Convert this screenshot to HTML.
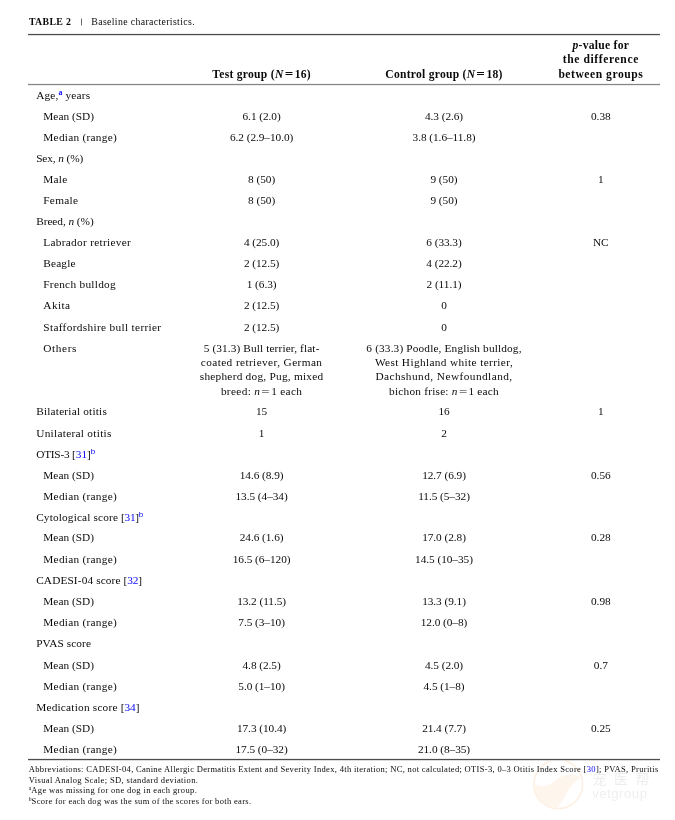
<!DOCTYPE html>
<html lang="en"><head><meta charset="utf-8"><title>Table 2</title>
<style>
html,body{margin:0;padding:0;background:#fff;}
body{width:675px;height:820px;position:relative;overflow:hidden;font-family:"Liberation Serif","Noto Serif CJK SC",serif;color:#0a0a0a;}
#w{position:absolute;left:0;top:0;width:675px;height:820px;will-change:transform;}
.t{position:absolute;font-size:11.3px;line-height:14px;white-space:nowrap;}
.c{position:absolute;font-size:11.3px;line-height:14px;white-space:nowrap;transform:translateX(-50%);}
.l{color:#0808f8;}
sup{font-size:7.8px;line-height:0;vertical-align:baseline;position:relative;top:-4.4px;letter-spacing:0;font-weight:bold;}
sup.sb{font-family:"Liberation Sans",sans-serif;font-weight:normal;font-size:8px;top:-3.8px;margin-left:0;}
.eq{display:inline-block;transform:scaleX(1.3);margin:0 2.1px;}
.rule{position:absolute;left:28px;width:631.5px;}
.hd{position:absolute;font-weight:bold;font-size:11.6px;line-height:14px;white-space:nowrap;transform:translateX(-50%);}
.cap{position:absolute;font-size:9.8px;line-height:12px;white-space:nowrap;}
.fn{position:absolute;left:28.8px;font-size:8.5px;line-height:11px;white-space:nowrap;}
.fn sup{font-size:5.6px;top:-2.6px;font-weight:normal;}
.wm{position:absolute;white-space:nowrap;font-family:"Liberation Sans","Noto Sans CJK SC",sans-serif;}
</style></head><body><div id="w">
<svg style="position:absolute;left:531px;top:757px" width="56" height="56" viewBox="0 0 56 56"><circle cx="27.2" cy="27.2" r="24.4" fill="none" stroke="#fdeee0" stroke-width="1.5"/><path d="M3.1 27.2 C9 29.5 16 30 22 25.5 C30 19 40 13.5 49.5 20.5 C42 26 38 32 34 39 C31 45 28 49 25 51.6 A24.5 24.5 0 0 1 3.1 27.2 Z" fill="#fef5ec"/></svg>
<div class="wm" style="left:592.4px;top:771px;font-size:14px;line-height:16px;color:#ededed;letter-spacing:7.6px">宠医帮</div>
<div class="wm" style="left:592.2px;top:786px;font-size:13.2px;line-height:15px;color:#efefef;letter-spacing:0.5px">vetgroup</div>
<div class="cap" style="left:28.9px;top:16px;font-weight:bold;letter-spacing:0.36px">TABLE 2</div>
<div style="position:absolute;left:81px;top:19px;width:1px;height:6px;background:#6a6a6a;box-shadow:0 1px 0 #c8c8c8,0 -1px 0 #c8c8c8"></div>
<div class="cap" style="left:91.3px;top:16px;letter-spacing:0.36px">Baseline characteristics.</div>
<div class="rule" style="top:34px;height:1px;background:#4c4c4c;box-shadow:0 1px 0 #dcdcdc,0 -1px 0 #ececec"></div>
<div class="rule" style="top:84px;height:1px;background:#858585;box-shadow:0 1px 0 #ececec,0 -1px 0 #f2f2f2"></div>
<div class="rule" style="top:759px;height:1px;background:#4c4c4c;box-shadow:0 1px 0 #dcdcdc,0 -1px 0 #ececec"></div>
<div class="hd" style="left:261.6px;top:68px;letter-spacing:0.28px">Test group (<i>N</i><span class="eq">=</span>16)</div>
<div class="hd" style="left:444px;top:68px;letter-spacing:0.26px">Control group (<i>N</i><span class="eq">=</span>18)</div>
<div class="hd" style="left:600.8px;top:39px;letter-spacing:0.26px"><i>p</i>-value for</div>
<div class="hd" style="left:600.8px;top:53px;letter-spacing:0.61px">the difference</div>
<div class="hd" style="left:600.8px;top:68px;letter-spacing:0.53px">between groups</div>
<div class="t" style="left:36.2px;top:88px;letter-spacing:0.18px">Age,<sup class="l">a</sup> years</div>
<div class="t" style="left:43.3px;top:109px;letter-spacing:0.01px">Mean (SD)</div>
<div class="c" style="left:261.6px;top:109px;letter-spacing:-0.05px">6.1 (2.0)</div>
<div class="c" style="left:444px;top:109px;letter-spacing:-0.05px">4.3 (2.6)</div>
<div class="c" style="left:600.8px;top:109px;letter-spacing:-0.05px">0.38</div>
<div class="t" style="left:43.3px;top:130px;letter-spacing:0.27px">Median (range)</div>
<div class="c" style="left:261.6px;top:130px;letter-spacing:-0.05px">6.2 (2.9–10.0)</div>
<div class="c" style="left:444px;top:130px;letter-spacing:-0.05px">3.8 (1.6–11.8)</div>
<div class="t" style="left:36.2px;top:151px;letter-spacing:-0.11px">Sex, <i>n</i> (%)</div>
<div class="t" style="left:43.3px;top:172px;letter-spacing:0.25px">Male</div>
<div class="c" style="left:261.6px;top:172px;letter-spacing:-0.05px">8 (50)</div>
<div class="c" style="left:444px;top:172px;letter-spacing:-0.05px">9 (50)</div>
<div class="c" style="left:600.8px;top:172px;letter-spacing:-0.05px">1</div>
<div class="t" style="left:43.3px;top:193px;letter-spacing:0.28px">Female</div>
<div class="c" style="left:261.6px;top:193px;letter-spacing:-0.05px">8 (50)</div>
<div class="c" style="left:444px;top:193px;letter-spacing:-0.05px">9 (50)</div>
<div class="t" style="left:36.2px;top:214px;letter-spacing:-0.05px">Breed, <i>n</i> (%)</div>
<div class="t" style="left:43.3px;top:235px;letter-spacing:0.29px">Labrador retriever</div>
<div class="c" style="left:261.6px;top:235px;letter-spacing:-0.05px">4 (25.0)</div>
<div class="c" style="left:444px;top:235px;letter-spacing:-0.05px">6 (33.3)</div>
<div class="c" style="left:600.8px;top:235px;letter-spacing:0px">NC</div>
<div class="t" style="left:43.3px;top:256px;letter-spacing:0.17px">Beagle</div>
<div class="c" style="left:261.6px;top:256px;letter-spacing:-0.05px">2 (12.5)</div>
<div class="c" style="left:444px;top:256px;letter-spacing:-0.05px">4 (22.2)</div>
<div class="t" style="left:43.3px;top:277px;letter-spacing:0.28px">French bulldog</div>
<div class="c" style="left:261.6px;top:277px;letter-spacing:-0.05px">1 (6.3)</div>
<div class="c" style="left:444px;top:277px;letter-spacing:-0.05px">2 (11.1)</div>
<div class="t" style="left:43.3px;top:298px;letter-spacing:0.42px">Akita</div>
<div class="c" style="left:261.6px;top:298px;letter-spacing:-0.05px">2 (12.5)</div>
<div class="c" style="left:444px;top:298px;letter-spacing:-0.05px">0</div>
<div class="t" style="left:43.3px;top:320px;letter-spacing:0.33px">Staffordshire bull terrier</div>
<div class="c" style="left:261.6px;top:320px;letter-spacing:-0.05px">2 (12.5)</div>
<div class="c" style="left:444px;top:320px;letter-spacing:-0.05px">0</div>
<div class="t" style="left:43.3px;top:341px;letter-spacing:0.61px">Others</div>
<div class="c" style="left:261.6px;top:341px;letter-spacing:0.12px">5 (31.3) Bull terrier, flat-</div>
<div class="c" style="left:261.6px;top:355px;letter-spacing:0.39px">coated retriever, German</div>
<div class="c" style="left:261.6px;top:369px;letter-spacing:0.25px">shepherd dog, Pug, mixed</div>
<div class="c" style="left:261.6px;top:384px;letter-spacing:0.33px">breed: <i>n</i><span class="eq">=</span>1 each</div>
<div class="c" style="left:444px;top:341px;letter-spacing:0.15px">6 (33.3) Poodle, English bulldog,</div>
<div class="c" style="left:444px;top:355px;letter-spacing:0.37px">West Highland white terrier,</div>
<div class="c" style="left:444px;top:369px;letter-spacing:0.45px">Dachshund, Newfoundland,</div>
<div class="c" style="left:444px;top:384px;letter-spacing:0.22px">bichon frise: <i>n</i><span class="eq">=</span>1 each</div>
<div class="t" style="left:36.2px;top:404px;letter-spacing:0.2px">Bilaterial otitis</div>
<div class="c" style="left:261.6px;top:404px;letter-spacing:-0.05px">15</div>
<div class="c" style="left:444px;top:404px;letter-spacing:-0.05px">16</div>
<div class="c" style="left:600.8px;top:404px;letter-spacing:-0.05px">1</div>
<div class="t" style="left:36.2px;top:426px;letter-spacing:0.29px">Unilateral otitis</div>
<div class="c" style="left:261.6px;top:426px;letter-spacing:-0.05px">1</div>
<div class="c" style="left:444px;top:426px;letter-spacing:-0.05px">2</div>
<div class="t" style="left:36.2px;top:447px;letter-spacing:0px"><span style="letter-spacing:-0.22px">OTIS-3 </span>[<span class="l">31</span>]<sup class="l sb">b</sup></div>
<div class="t" style="left:43.3px;top:468px;letter-spacing:0.01px">Mean (SD)</div>
<div class="c" style="left:261.6px;top:468px;letter-spacing:-0.05px">14.6 (8.9)</div>
<div class="c" style="left:444px;top:468px;letter-spacing:-0.05px">12.7 (6.9)</div>
<div class="c" style="left:600.8px;top:468px;letter-spacing:-0.05px">0.56</div>
<div class="t" style="left:43.3px;top:489px;letter-spacing:0.27px">Median (range)</div>
<div class="c" style="left:261.6px;top:489px;letter-spacing:-0.05px">13.5 (4–34)</div>
<div class="c" style="left:444px;top:489px;letter-spacing:-0.05px">11.5 (5–32)</div>
<div class="t" style="left:36.2px;top:510px;letter-spacing:-0.29px"><span style="letter-spacing:0.15px">Cytological score </span>[<span class="l">31</span>]<sup class="l sb">b</sup></div>
<div class="t" style="left:43.3px;top:530px;letter-spacing:0.01px">Mean (SD)</div>
<div class="c" style="left:261.6px;top:530px;letter-spacing:-0.05px">24.6 (1.6)</div>
<div class="c" style="left:444px;top:530px;letter-spacing:-0.05px">17.0 (2.8)</div>
<div class="c" style="left:600.8px;top:530px;letter-spacing:-0.05px">0.28</div>
<div class="t" style="left:43.3px;top:552px;letter-spacing:0.27px">Median (range)</div>
<div class="c" style="left:261.6px;top:552px;letter-spacing:-0.05px">16.5 (6–120)</div>
<div class="c" style="left:444px;top:552px;letter-spacing:-0.05px">14.5 (10–35)</div>
<div class="t" style="left:36.2px;top:573px;letter-spacing:-0.18px"><span style="letter-spacing:0.13px">CADESI-04 score </span>[<span class="l">32</span>]</div>
<div class="t" style="left:43.3px;top:594px;letter-spacing:0.01px">Mean (SD)</div>
<div class="c" style="left:261.6px;top:594px;letter-spacing:-0.05px">13.2 (11.5)</div>
<div class="c" style="left:444px;top:594px;letter-spacing:-0.05px">13.3 (9.1)</div>
<div class="c" style="left:600.8px;top:594px;letter-spacing:-0.05px">0.98</div>
<div class="t" style="left:43.3px;top:615px;letter-spacing:0.27px">Median (range)</div>
<div class="c" style="left:261.6px;top:615px;letter-spacing:-0.05px">7.5 (3–10)</div>
<div class="c" style="left:444px;top:615px;letter-spacing:-0.05px">12.0 (0–8)</div>
<div class="t" style="left:36.2px;top:636px;letter-spacing:0.07px">PVAS score</div>
<div class="t" style="left:43.3px;top:658px;letter-spacing:0.01px">Mean (SD)</div>
<div class="c" style="left:261.6px;top:658px;letter-spacing:-0.05px">4.8 (2.5)</div>
<div class="c" style="left:444px;top:658px;letter-spacing:-0.05px">4.5 (2.0)</div>
<div class="c" style="left:600.8px;top:658px;letter-spacing:-0.05px">0.7</div>
<div class="t" style="left:43.3px;top:679px;letter-spacing:0.27px">Median (range)</div>
<div class="c" style="left:261.6px;top:679px;letter-spacing:-0.05px">5.0 (1–10)</div>
<div class="c" style="left:444px;top:679px;letter-spacing:-0.05px">4.5 (1–8)</div>
<div class="t" style="left:36.2px;top:700px;letter-spacing:0px"><span style="letter-spacing:0.21px">Medication score </span>[<span class="l">34</span>]</div>
<div class="t" style="left:43.3px;top:721px;letter-spacing:0.01px">Mean (SD)</div>
<div class="c" style="left:261.6px;top:721px;letter-spacing:-0.05px">17.3 (10.4)</div>
<div class="c" style="left:444px;top:721px;letter-spacing:-0.05px">21.4 (7.7)</div>
<div class="c" style="left:600.8px;top:721px;letter-spacing:-0.05px">0.25</div>
<div class="t" style="left:43.3px;top:742px;letter-spacing:0.27px">Median (range)</div>
<div class="c" style="left:261.6px;top:742px;letter-spacing:-0.05px">17.5 (0–32)</div>
<div class="c" style="left:444px;top:742px;letter-spacing:-0.05px">21.0 (8–35)</div>
<div class="fn" style="top:764px;letter-spacing:0.32px">Abbreviations: CADESI-04, Canine Allergic Dermatitis Extent and Severity Index, 4th iteration; NC, not calculated; OTIS-3, 0–3 Otitis Index Score [<span class="l">30</span>]; PVAS, Pruritis</div>
<div class="fn" style="top:775px;letter-spacing:0.37px">Visual Analog Scale; SD, standard deviation.</div>
<div class="fn" style="top:785px;letter-spacing:0.38px"><sup>a</sup>Age was missing for one dog in each group.</div>
<div class="fn" style="top:796px;letter-spacing:0.33px"><sup>b</sup>Score for each dog was the sum of the scores for both ears.</div>
</div></body></html>
